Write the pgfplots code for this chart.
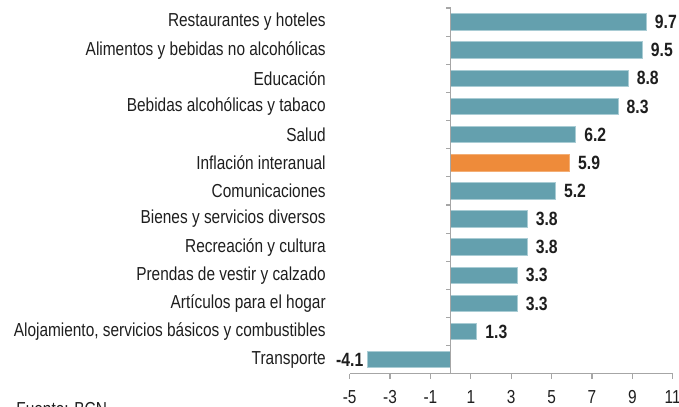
\documentclass[border=0pt]{standalone}
\usepackage{fontspec}
\setmainfont{Liberation Sans}[FakeStretch=0.82]
\usepackage{pgfplots}
\pgfplotsset{compat=1.18}
\definecolor{barteal}{HTML}{64A0AE}
\definecolor{baredge}{HTML}{A9CCD4}
\definecolor{barorange}{HTML}{EE8B3A}
\definecolor{axisgray}{HTML}{A6A6A6}
\definecolor{txt}{HTML}{1E1E1E}
\begin{document}
\begin{tikzpicture}[font=\fontsize{9.4}{11}\selectfont, text=txt]
\begin{axis}[
  name=ax,
  scale only axis, width=161.5pt, height=182.9pt,
  xmin=-5, xmax=11, ymin=-0.5, ymax=12.5,
  axis x line*=bottom, axis y line*=left,
  y axis line style={draw=none},
  x axis line style={axisgray, line width=0.6pt, -},
  xtick={-5,-3,-1,1,3,5,7,9,11},
  xticklabels={-5,-3,-1,1,3,5,7,9,11},
  x tick style={axisgray, line width=0.6pt},
  xtick align=outside,
  major tick length=2.5pt,
  ytick={0,...,12},
  yticklabels={Transporte,{Alojamiento, servicios básicos y combustibles},Artículos para el hogar,Prendas de vestir y calzado,Recreación y cultura,Bienes y servicios diversos,Comunicaciones,Inflación interanual,Salud,Bebidas alcohólicas y tabaco,Educación,Alimentos y bebidas no alcohólicas,Restaurantes y hoteles},
  y tick style={draw=none},
  yticklabel style={anchor=east, inner sep=0pt, xshift=-9.3pt},
  xticklabel style={anchor=north, inner sep=0pt, yshift=-5.5pt},
  xbar, bar width=8.25pt, bar shift=0pt,
  clip=false,
  nodes near coords, point meta=explicit symbolic,
  every node near coord/.style={font=\fontsize{9.6}{11}\selectfont\bfseries, text=txt, inner sep=0pt, anchor=west, xshift=4pt},
]
\addplot[fill=barteal, draw=baredge, line width=0.5pt] coordinates {
  (9.7,12) [9.7]
  (9.5,11) [9.5]
  (8.8,10) [8.8]
  (8.3,9) [8.3]
  (6.2,8) [6.2]
  (5.2,6) [5.2]
  (3.8,5) [3.8]
  (3.8,4) [3.8]
  (3.3,3) [3.3]
  (3.3,2) [3.3]
  (1.3,1) [1.3]
};
\addplot[fill=barorange, draw=barorange!70!white, line width=0.5pt] coordinates {
  (5.9,7) [5.9]
};
\addplot[fill=barteal, draw=baredge, line width=0.5pt,
  every node near coord/.append style={anchor=east, xshift=-6pt}] coordinates {
  (-4.1,0) [-4.1]
};
\draw[axisgray, line width=0.6pt] (axis cs:0,-0.5) -- (axis cs:0,12.5);
\pgfplotsinvokeforeach{-0.5,0.5,1.5,2.5,3.5,4.5,5.5,6.5,7.5,8.5,9.5,10.5,11.5,12.5}{
  \draw[axisgray, line width=0.6pt] (axis cs:0,#1) -- ([xshift=-2.5pt]axis cs:0,#1);
}
\end{axis}
\node[anchor=north west, inner sep=0pt] at ([shift={(-166.85pt,-14.2pt)}]ax.south west) {Fuente: BCN};
\pgfresetboundingbox
\path[use as bounding box] ([shift={(-174.85pt,-16.15pt)}]ax.south west) rectangle ([shift={(3.15pt,4pt)}]ax.north east);
\end{tikzpicture}
\end{document}
